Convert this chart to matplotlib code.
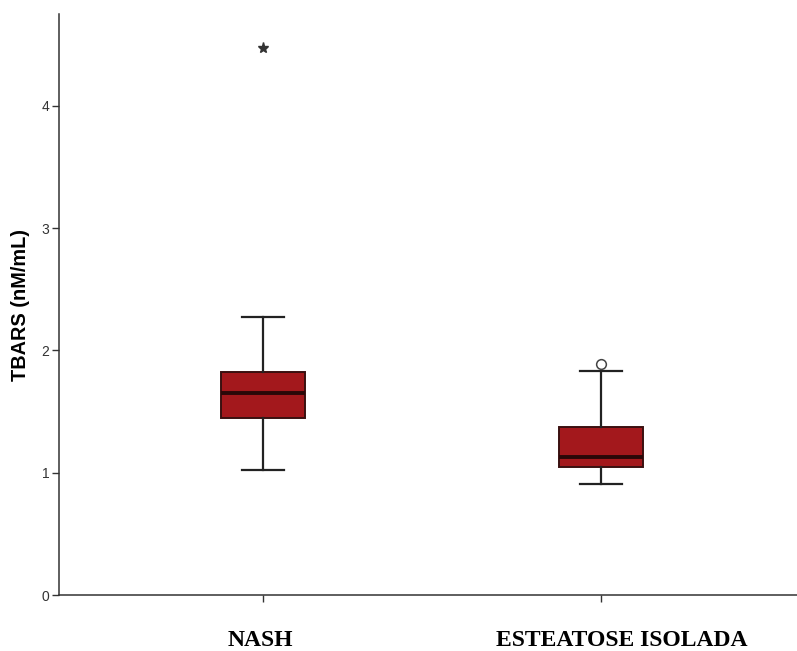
import matplotlib
matplotlib.use("Agg")
import matplotlib.pyplot as plt
import matplotlib.transforms as mtransforms

# Group summary statistics (TBARS, nM/mL)
groups = ["NASH", "ESTEATOSE ISOLADA"]
q1 = [1.445, 1.049]
median = [1.654, 1.126]
q3 = [1.826, 1.371]
whisker_low = [1.022, 0.905]
whisker_high = [2.27, 1.832]
extreme_outliers = [[4.47], []]   # drawn with a star
mild_outliers = [[], [1.886]]     # drawn with an open circle

fig = plt.figure(figsize=(7.97, 6.51), dpi=100)
ax = fig.add_axes([0.074, 0.086, 0.926, 0.8925])

stats = []
for i, name in enumerate(groups):
    stats.append(dict(label=name, med=median[i], q1=q1[i], q3=q3[i],
                      whislo=whisker_low[i], whishi=whisker_high[i], fliers=[]))

positions = [1, 2]
ax.bxp(stats, positions=positions, widths=0.25, patch_artist=True,
       showfliers=False,
       boxprops=dict(facecolor="#a3181c", edgecolor="#3a1010", linewidth=1.4),
       medianprops=dict(color="#2a0808", linewidth=2.8),
       whiskerprops=dict(color="#222222", linewidth=1.6),
       capprops=dict(color="#222222", linewidth=1.6),
       capwidths=0.124)

for pos, vals in zip(positions, extreme_outliers):
    if vals:
        ax.plot([pos] * len(vals), vals, linestyle="none", marker="*",
                markersize=8, color="#333333")
for pos, vals in zip(positions, mild_outliers):
    if vals:
        ax.plot([pos] * len(vals), vals, linestyle="none", marker="o",
                markersize=7, markerfacecolor="white",
                markeredgecolor="#444444", markeredgewidth=1.1)

ax.set_xlim(0.396, 2.58)
ax.set_ylim(0, 4.75)
ax.set_yticks([0, 1, 2, 3, 4])
ax.set_yticklabels(["0", "1", "2", "3", "4"], family="Liberation Sans",
                   fontsize=10, color="#333333")
ax.set_xticks(positions)
ax.set_xticklabels(groups, family="Liberation Serif", fontweight="bold",
                   fontsize=17)
ax.tick_params(axis="x", length=5, width=1, pad=20, color="#333333")
ax.tick_params(axis="y", length=5, width=1, pad=2, color="#333333")

# nudge the category labels to their printed positions
lbls = ax.get_xticklabels()
lbls[0].set_transform(lbls[0].get_transform() +
                      mtransforms.ScaledTranslation(-3 / 100, 0, fig.dpi_scale_trans))
lbls[1].set_transform(lbls[1].get_transform() +
                      mtransforms.ScaledTranslation(21 / 100, 0, fig.dpi_scale_trans))

ax.set_ylabel("TBARS (nM/mL)", family="Liberation Sans", fontweight="bold",
              fontsize=14.3)
ax.yaxis.set_label_coords(-0.039, 0.5)

for side in ("top", "right"):
    ax.spines[side].set_visible(False)
for side in ("left", "bottom"):
    ax.spines[side].set_color("#333333")
    ax.spines[side].set_linewidth(1.1)

fig.savefig("out.png", dpi=100)
